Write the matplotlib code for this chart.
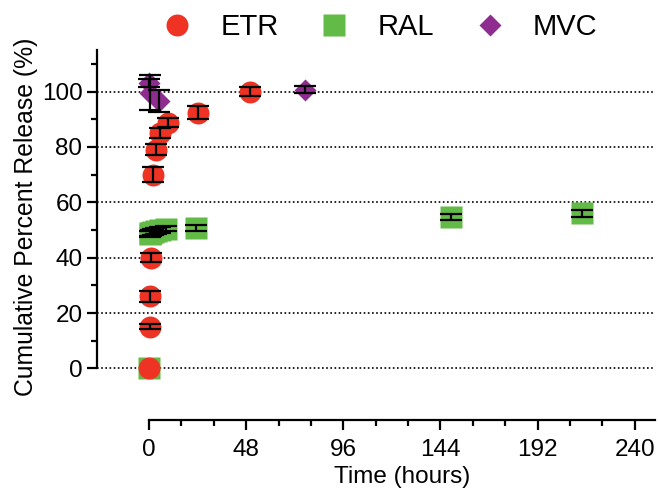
import matplotlib
matplotlib.use("Agg")
import matplotlib.pyplot as plt
from matplotlib.lines import Line2D
from matplotlib.ticker import FixedLocator

plt.rcParams['font.family'] = ['Liberation Sans', 'DejaVu Sans']

# Cumulative release data (time in hours, percent released, SD)
etr_time = [0, 0.25, 0.5, 1, 2, 3.5, 5.5, 9.5, 24, 50]
etr_release = [0, 15, 26, 40, 70, 79, 85, 88.7, 92.3, 100]
etr_sd = [0, 0.9, 1.9, 1.7, 2.75, 1.9, 1.7, 1.6, 2.3, 1.75]

ral_time = [0, 0.25, 0.5, 1, 2, 3.5, 5.5, 8.5, 23, 149, 214]
ral_release = [0, 48.5, 48.8, 49.0, 49.3, 49.6, 50.0, 50.5, 50.7, 54.7, 56.0]
ral_sd = [0, 1, 1, 1, 1, 1, 1, 1, 1, 1.1, 1.2]

mvc_time = [0, 0.5, 5, 77]
mvc_release = [103, 99.5, 96.5, 100.7]
mvc_sd = [1.5, 6.3, 4, 1.4]

y_major = [0, 20, 40, 60, 80, 100]
y_minor = [10, 30, 50, 70, 90, 110]
x_major = [0, 48, 96, 144, 192, 240]
x_minor = [16, 32, 64, 80, 112, 128, 160, 176, 208, 224]

red = '#EE3325'
green = '#62BB46'
purple = '#8F2C8F'

fig = plt.figure(figsize=(6.58, 4.88), dpi=100)
ax = fig.add_axes([97 / 658, 68 / 488, 558 / 658, 370 / 488])
ax.set_xlim(-25.7, 250)
ax.set_ylim(-18.6, 115)

# dotted horizontal gridlines
for yv in y_major:
    ax.axhline(yv, color='black', lw=1.2, linestyle=(0, (1, 1.5)), zorder=1)

ms = 15.8
ax.plot(ral_time, ral_release, 's', color=green, ms=ms, mec='none', zorder=3)
ax.plot(etr_time, etr_release, 'o', color=red, ms=ms, mec='none', zorder=4)
ax.plot(mvc_time, mvc_release, 'D', color=purple, ms=11, mec='none', zorder=5)

for t, r, e in ((ral_time, ral_release, ral_sd),
                (etr_time, etr_release, etr_sd),
                (mvc_time, mvc_release, mvc_sd)):
    pts = [(a, b, c) for a, b, c in zip(t, r, e) if c > 0]
    ax.errorbar([p[0] for p in pts], [p[1] for p in pts], yerr=[p[2] for p in pts],
                fmt='none', ecolor='black', elinewidth=1.6, capsize=8,
                capthick=1.6, zorder=6)

# Prism-style offset axes
for side in ('top', 'right'):
    ax.spines[side].set_visible(False)
ax.spines['left'].set_bounds(0, 115)
ax.spines['bottom'].set_bounds(0, 250)
ax.spines['left'].set_linewidth(1.6)
ax.spines['bottom'].set_linewidth(1.6)

ax.set_yticks(y_major)
ax.yaxis.set_minor_locator(FixedLocator(y_minor))
ax.set_xticks(x_major)
ax.xaxis.set_minor_locator(FixedLocator(x_minor))
ax.tick_params(axis='both', which='major', length=7.5, width=1.6, labelsize=17.5)
ax.tick_params(axis='both', which='minor', length=4.5, width=1.6)
ax.tick_params(axis='y', which='major', pad=3)
ax.tick_params(axis='x', which='major', pad=6)

# axis titles centred on the drawn spines
ax.set_xlabel('Time (hours)', fontsize=17.5, labelpad=4, x=0.547)
ax.set_ylabel('Cumulative Percent Release (%)', fontsize=17.8, labelpad=3, y=0.55)

handles = [
    Line2D([], [], marker='o', color=red, ls='none', ms=ms, mec='none'),
    Line2D([], [], marker='s', color=green, ls='none', ms=ms, mec='none'),
    Line2D([], [], marker='D', color=purple, ls='none', ms=11, mec='none'),
]
fig.legend(handles, ['ETR', 'RAL', 'MVC'], loc='center', ncol=3,
           bbox_to_anchor=(380 / 658, 1 - 27 / 488), frameon=False,
           fontsize=21, handlelength=1.0, handletextpad=0.97,
           columnspacing=1.42, borderpad=0)

fig.savefig('out.png', dpi=100)
